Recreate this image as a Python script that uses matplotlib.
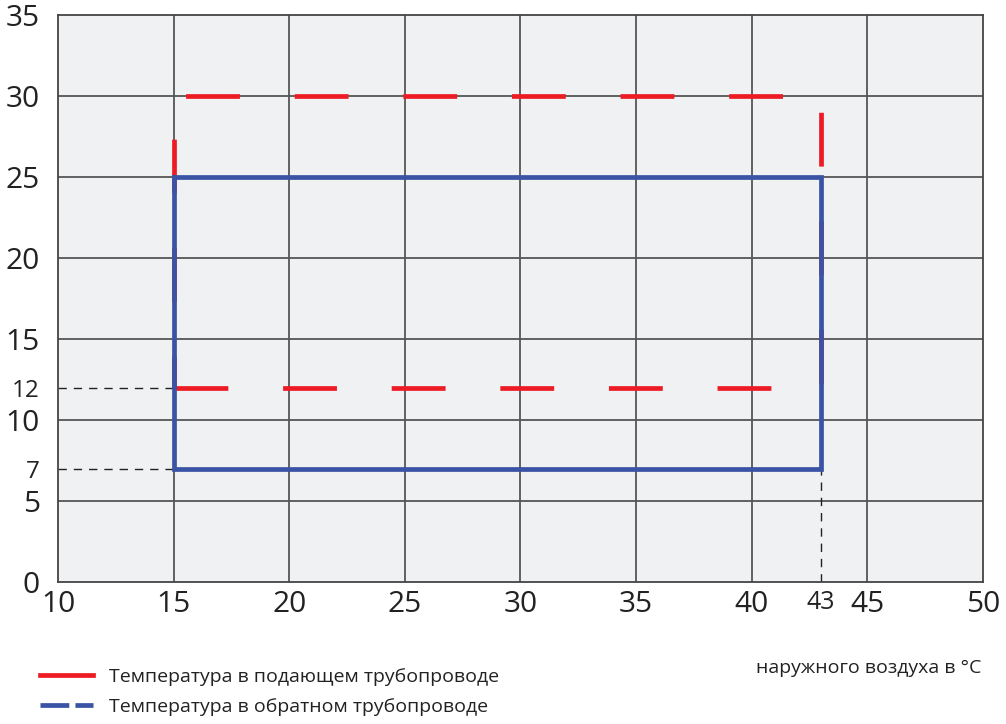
import matplotlib
matplotlib.use('Agg')
import matplotlib.pyplot as plt
from matplotlib.lines import Line2D

# rectangles: outdoor temperature (x) vs water temperature (y)
supply_x = [15, 43, 43, 15, 15]
supply_y = [12, 12, 30, 30, 12]
return_x = [15, 43, 43, 15, 15]
return_y = [25, 25, 7, 7, 25]

x_ticks = [10, 15, 20, 25, 30, 35, 40, 43, 45, 50]
y_ticks = [0, 5, 7, 10, 12, 15, 20, 25, 30, 35]
small_x = [43]
small_y = [7, 12]

legend_labels = ['Температура в подающем трубопроводе',
                 'Температура в обратном трубопроводе']
xlabel_text = 'наружного воздуха в °C'

red = '#ed1c24'
blue = '#3a53a4'

plt.rcParams['font.family'] = ['Open Sans', 'DejaVu Sans']

fig = plt.figure(figsize=(10.06, 7.24), dpi=100)
ax = fig.add_axes([0.0577, 0.196, 0.9193, 0.783])
ax.set_facecolor('#f0f1f3')

ax.set_xlim(10, 50)
ax.set_ylim(0, 35)

# grid every 5 degrees
for v in range(15, 50, 5):
    ax.axvline(v, color='#3a3a3a', lw=1.1, zorder=1)
for v in range(5, 35, 5):
    ax.axhline(v, color='#555555', lw=1.3, zorder=1)
for s in ax.spines.values():
    s.set_color('#444444')
    s.set_linewidth(1.3)

# guide lines to the corner values
ax.plot([10, supply_x[0]], [supply_y[0], supply_y[0]], color='#222222', lw=1,
        dashes=(6, 5), zorder=2)
ax.plot([10, return_x[3]], [return_y[2], return_y[2]], color='#222222', lw=1,
        dashes=(6, 5), zorder=2)
ax.plot([return_x[1], return_x[1]], [0, return_y[2]], color='#222222', lw=1,
        dashes=(6, 5), zorder=2)

ax.plot(supply_x, supply_y, color=red, lw=3.4, dash_capstyle='butt',
        linestyle=(0, (11.4, 11.6)), zorder=3)
ax.plot(return_x, return_y, color=blue, lw=3.4, solid_joinstyle='miter',
        zorder=4)

ax.set_xticks(x_ticks)
ax.set_yticks(y_ticks)
ax.tick_params(length=0, labelsize=21.5, colors='#222222')
ax.tick_params(axis='x', pad=6)
ax.tick_params(axis='y', pad=13)
for lab, v in zip(ax.get_xticklabels(), x_ticks):
    if v in small_x:
        lab.set_fontsize(18)
for lab, v in zip(ax.get_yticklabels(), y_ticks):
    if v in small_y:
        lab.set_fontsize(17.5)

handles = [Line2D([], [], color=red, lw=3.4),
           Line2D([], [], color=blue, lw=3.4, dashes=(6.1, 1.3))]
fig.legend(handles, legend_labels, loc='center left',
           bbox_to_anchor=(0.022, 0.0445), frameon=False, fontsize=14,
           handlelength=2.75, handletextpad=0.8, labelspacing=0.62,
           labelcolor='#222222')

fig.text(0.976, 0.077, xlabel_text, ha='right', va='center', fontsize=14,
         color='#222222')

fig.savefig('out.png', dpi=100)
